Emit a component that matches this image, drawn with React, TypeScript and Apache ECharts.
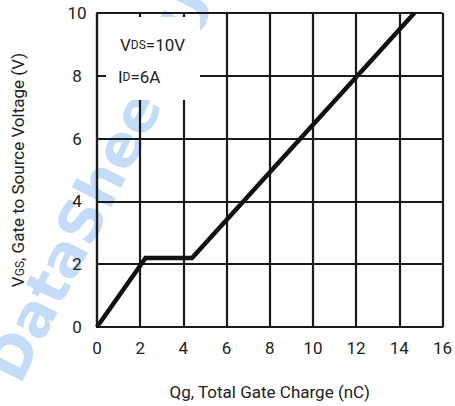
import React, { useEffect, useRef } from "react";
import * as echarts from "echarts";

const chargeNC = [0, 2.25, 4.4, 14.7];
const vgsVolts = [0, 2.2, 2.2, 10];
const xTicks = [0, 2, 4, 6, 8, 10, 12, 14, 16];
const yTicks = [0, 2, 4, 6, 8, 10];
const xAxisTitle = "Qg, Total Gate Charge (nC)";
const yAxisTitle = "{b|V}{s|GS}{b|, Gate to Source Voltage (V)}";
const condLine1 = "{b|V}{s|DS}{b|=10V}";
const condLine2 = "{b|I}{s|D}{b|=6A}";
const watermark = "DataSheet4U";

const FONT = "'Liberation Sans Narrow', 'Roboto', 'Noto Sans', sans-serif";

export default function App() {
  const ref = useRef<HTMLDivElement>(null);
  useEffect(() => {
    document.body.style.margin = "0";
    const chart = echarts.init(ref.current!, null, { renderer: "svg" });
    const gridColor = "#1a1a1a";
    chart.setOption({
      animation: false,
      backgroundColor: "#ffffff",
      textStyle: { fontFamily: FONT },
      grid: { left: 97, right: 9, top: 13, bottom: 79, containLabel: false },
      xAxis: {
        type: "value",
        min: xTicks[0],
        max: xTicks[xTicks.length - 1],
        interval: 2,
        name: xAxisTitle,
        nameLocation: "middle",
        nameGap: 56,
        nameTextStyle: { fontSize: 17, color: "#222", fontFamily: FONT },
        axisLine: { show: true, lineStyle: { color: gridColor, width: 2.2 } },
        axisTick: { show: false },
        axisLabel: { fontSize: 17, color: "#222", margin: 12, fontFamily: FONT },
        splitLine: { show: true, lineStyle: { color: gridColor, width: 2.2 } },
      },
      yAxis: {
        type: "value",
        min: yTicks[0],
        max: yTicks[yTicks.length - 1],
        interval: 2,
        name: yAxisTitle,
        nameLocation: "middle",
        nameGap: 71,
        nameTextStyle: {
          rich: {
            b: { fontSize: 17, color: "#222", fontFamily: FONT },
            s: { fontSize: 12, color: "#222", fontFamily: FONT, verticalAlign: "bottom" },
          },
        },
        axisLine: { show: true, lineStyle: { color: gridColor, width: 2.2 } },
        axisTick: { show: false },
        axisLabel: { fontSize: 17, color: "#222", margin: 20, align: "center", fontFamily: FONT },
        splitLine: { show: true, lineStyle: { color: gridColor, width: 2.2 } },
      },
      graphic: [
        {
          type: "text",
          x: 100,
          y: 185,
          rotation: (63 * Math.PI) / 180,
          z: -10,
          silent: true,
          style: {
            text: watermark,
            fontSize: 58,
            fontWeight: "bold",
            fontFamily: "'DejaVu Sans', sans-serif",
            fill: "#c4dcf7",
            align: "center",
            verticalAlign: "middle",
          },
        },
        {
          type: "rect",
          shape: { x: 106, y: 17, width: 94, height: 83 },
          style: { fill: "#ffffff" },
          z: 50,
        },
        {
          type: "text",
          x: 120,
          y: 45,
          z: 51,
          style: {
            text: condLine1,
            verticalAlign: "middle",
            rich: {
              b: { fontSize: 17, fill: "#222", fontFamily: FONT },
              s: { fontSize: 12, fill: "#222", fontFamily: FONT },
            },
          },
        },
        {
          type: "text",
          x: 118,
          y: 77,
          z: 51,
          style: {
            text: condLine2,
            verticalAlign: "middle",
            rich: {
              b: { fontSize: 17, fill: "#222", fontFamily: FONT },
              s: { fontSize: 12, fill: "#222", fontFamily: FONT },
            },
          },
        },
      ],
      series: [
        {
          type: "line",
          data: chargeNC.map((x, i) => [x, vgsVolts[i]]),
          showSymbol: false,
          symbol: "none",
          lineStyle: { color: "#111", width: 4.5, join: "miter" },
          z: 60,
        },
      ],
    });
    return () => chart.dispose();
  }, []);
  return (
    <div
      ref={ref}
      style={{ position: "absolute", left: 0, top: 0, width: 455, height: 406 }}
    />
  );
}
